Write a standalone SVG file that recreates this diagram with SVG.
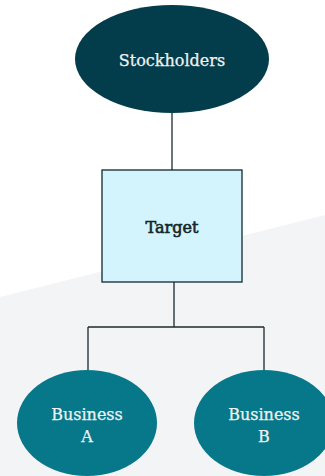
<svg xmlns="http://www.w3.org/2000/svg" width="325" height="476" viewBox="0 0 325 476">
<style>
.lbl{font-family:"DejaVu Serif","Liberation Serif",serif;font-size:16px;text-anchor:middle}
.light{fill:#f2f2f2;stroke:#f2f2f2;stroke-width:0.25}
.dark{fill:#13262c;stroke:#13262c;stroke-width:0.6}
.conn{fill:none;stroke:#1b2a2f;stroke-width:1.3}
</style>
<rect width="325" height="476" fill="#ffffff"/>
<polygon points="0,297 325,215 325,476 0,476" fill="#f3f4f6"/>
<g id="connectors">
<path class="conn" d="M172,113 V170"/>
<path class="conn" d="M174,282 V327 M88,327 H264 M88,327 V370 M264,327 V370"/>
</g>
<g id="stockholders">
<ellipse cx="172" cy="59" rx="97" ry="54" fill="#033d4b"/>
<text class="lbl light" x="172" y="66">Stockholders</text>
</g>
<g id="target">
<rect x="102" y="170" width="140" height="112" fill="#d3f4fd" stroke="#0f2a30" stroke-width="1.3"/>
<text class="lbl dark" x="172" y="233">Target</text>
</g>
<g id="businessA">
<ellipse cx="87" cy="423" rx="70" ry="53" fill="#06788a"/>
<text class="lbl light" x="87" y="420">Business</text>
<text class="lbl light" x="87" y="442">A</text>
</g>
<g id="businessB">
<ellipse cx="264" cy="423" rx="70" ry="53" fill="#06788a"/>
<text class="lbl light" x="264" y="420">Business</text>
<text class="lbl light" x="264" y="442">B</text>
</g>
</svg>
